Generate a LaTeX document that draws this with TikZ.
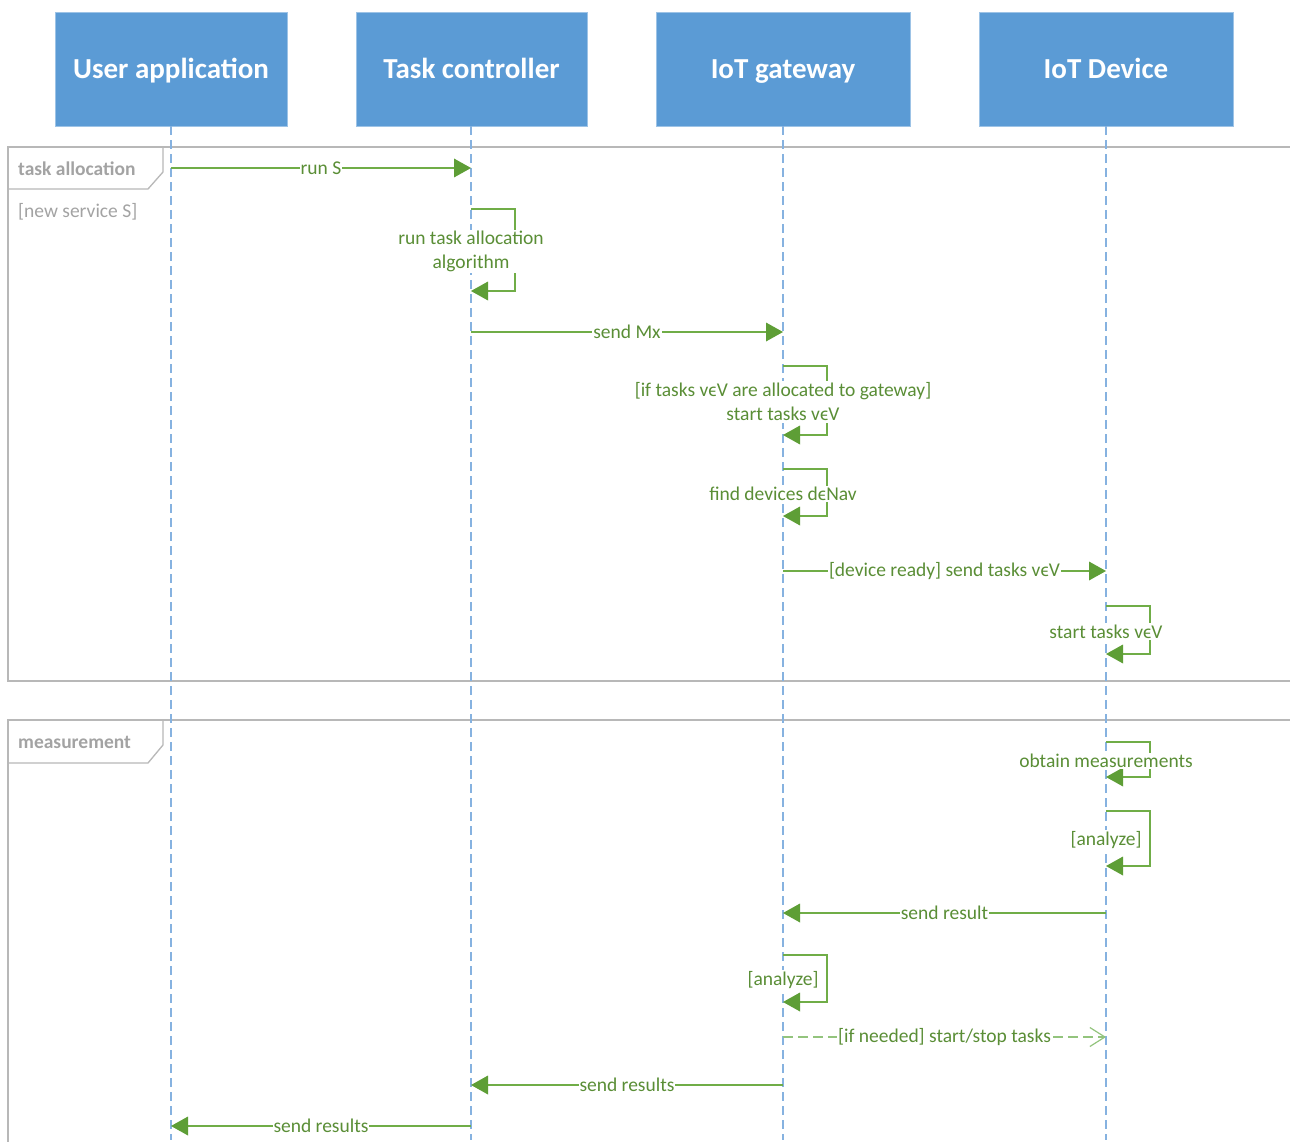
\documentclass[tikz,border=0pt]{standalone}
\usepackage{fontspec}
\setmainfont{Carlito}
\usetikzlibrary{arrows.meta}
\definecolor{headblue}{HTML}{5B9BD5}
\definecolor{headedge}{HTML}{9DC3E6}
\definecolor{lifeblue}{HTML}{86B2E0}
\definecolor{msggreen}{HTML}{70AD47}
\definecolor{tipgreen}{HTML}{5E9E36}
\definecolor{txtgreen}{HTML}{5A8E36}
\definecolor{dashgreen}{HTML}{93C47D}
\definecolor{framegray}{HTML}{B8B8B8}
\definecolor{tabtext}{HTML}{A3A3A3}

\tikzset{
  head/.style={draw=headedge, line width=0.8pt, fill=headblue, text=white,
    font=\fontsize{29}{34}\selectfont\bfseries, minimum height=114pt, inner sep=0pt,
    text height=23pt, text depth=4pt},
  lifeline/.style={draw=lifeblue, line width=1.2pt, dash pattern=on 9pt off 5pt},
  frameline/.style={draw=framegray, line width=1.3pt},
  tablabel/.style={text=tabtext, font=\fontsize{19.5}{22}\selectfont\bfseries, anchor=west, inner sep=0pt},
  guard/.style={text=tabtext, font=\fontsize{19.5}{22}\selectfont, anchor=west, inner sep=0pt},
  msg/.style={draw=msggreen, line width=1.2pt,
    -{Triangle[length=17pt,width=19pt,color=tipgreen,fill=tipgreen,line width=0pt]}},
  reply/.style={draw=dashgreen, line width=1.2pt, dash pattern=on 10pt off 5pt,
    -{Straight Barb[length=15pt,width=19pt,line width=1.2pt]}},
  lbl/.style={text=txtgreen, font=\fontsize{19.5}{24}\selectfont, fill=white,
    inner xsep=1pt, inner ysep=1.5pt, align=center}
}

% self message: lifeline x, top y, bottom y, name, text
\newcommand\selfmsg[5]{%
  \coordinate (#4a) at (#1,#2);
  \coordinate (#4b) at ({#1+44},#2);
  \coordinate (#4c) at ({#1+44},#3);
  \coordinate (#4d) at (#1,#3);
  \draw[msg] (#4a) -- (#4b) -- (#4c) -- (#4d);
  \node[lbl] (#4t) at ({#1},{(#2+#3)/2+1.5}) {#5};
}

\begin{document}
\begin{tikzpicture}[x=1pt, y=-1pt]
\useasboundingbox (0,0) rectangle (1290,1142);
\fill[white] (0,0) rectangle (1290,1142);

% interaction frames
\draw[frameline] (1290,147) -- (8,147) -- (8,681) -- (1290,681);
\draw[frameline] (8,147) -- (163,147) -- (163,172) -- (148,189) -- (8,189);
\node[tablabel] (fr1) at (18,169) {task allocation};
\node[guard] (g1) at (18,211.5) {[new service S]};

\draw[frameline] (1290,720) -- (8,720) -- (8,1142);
\draw[frameline] (8,720) -- (163,720) -- (163,745) -- (148,763) -- (8,763);
\node[tablabel] (fr2) at (18,742) {measurement};

% participants
\node[head, minimum width=232pt] (ua) at (171,69) {User application};
\node[head, minimum width=231pt] (tc) at (471.5,69) {Task controller};
\node[head, minimum width=254pt] (gw) at (783,69) {IoT gateway};
\node[head, minimum width=254pt] (dev) at (1106,69) {IoT Device};

% lifelines
\coordinate (uaE) at (171,1140);
\coordinate (tcE) at (471,1140);
\coordinate (gwE) at (783,1140);
\coordinate (devE) at (1106,1140);
\draw[lifeline] (ua.south) -- (uaE);
\draw[lifeline] (tc.south -| tcE) -- (tcE);
\draw[lifeline] (gw.south) -- (gwE);
\draw[lifeline] (dev.south) -- (devE);

% task allocation
\coordinate (m1a) at (171,168);  \coordinate (m1b) at (471,168);
\draw[msg] (m1a) -- node[lbl] (m1t) {run S} (m1b);

\selfmsg{471}{209}{291}{s1}{run task allocation\\algorithm}

\coordinate (m2a) at (471,332);  \coordinate (m2b) at (783,332);
\draw[msg] (m2a) -- node[lbl] (m2t) {send Mx} (m2b);

\selfmsg{783}{366}{435}{s2}{[if tasks vϵV are allocated to gateway]\\start tasks vϵV}
\selfmsg{783}{469}{516}{s3}{find devices dϵNav}

\coordinate (m3a) at (783,571);  \coordinate (m3b) at (1106,571);
\draw[msg] (m3a) -- node[lbl] (m3t) {[device ready] send tasks vϵV} (m3b);

\selfmsg{1106}{606}{654}{s4}{start tasks vϵV}

% measurement
\selfmsg{1106}{742}{777}{s5}{obtain measurements}
\selfmsg{1106}{811}{866}{s6}{[analyze]}

\coordinate (m4a) at (1106,913);  \coordinate (m4b) at (783,913);
\draw[msg] (m4a) -- node[lbl] (m4t) {send result} (m4b);

\selfmsg{783}{955}{1002}{s7}{[analyze]}

\coordinate (m5a) at (783,1037);  \coordinate (m5b) at (1106,1037);
\draw[reply] (m5a) -- node[lbl] (m5t) {[if needed] start/stop tasks} (m5b);

\coordinate (m6a) at (783,1085);  \coordinate (m6b) at (471,1085);
\draw[msg] (m6a) -- node[lbl] (m6t) {send results} (m6b);

\coordinate (m7a) at (471,1126);  \coordinate (m7b) at (171,1126);
\draw[msg] (m7a) -- node[lbl] (m7t) {send results} (m7b);
\end{tikzpicture}
\end{document}
